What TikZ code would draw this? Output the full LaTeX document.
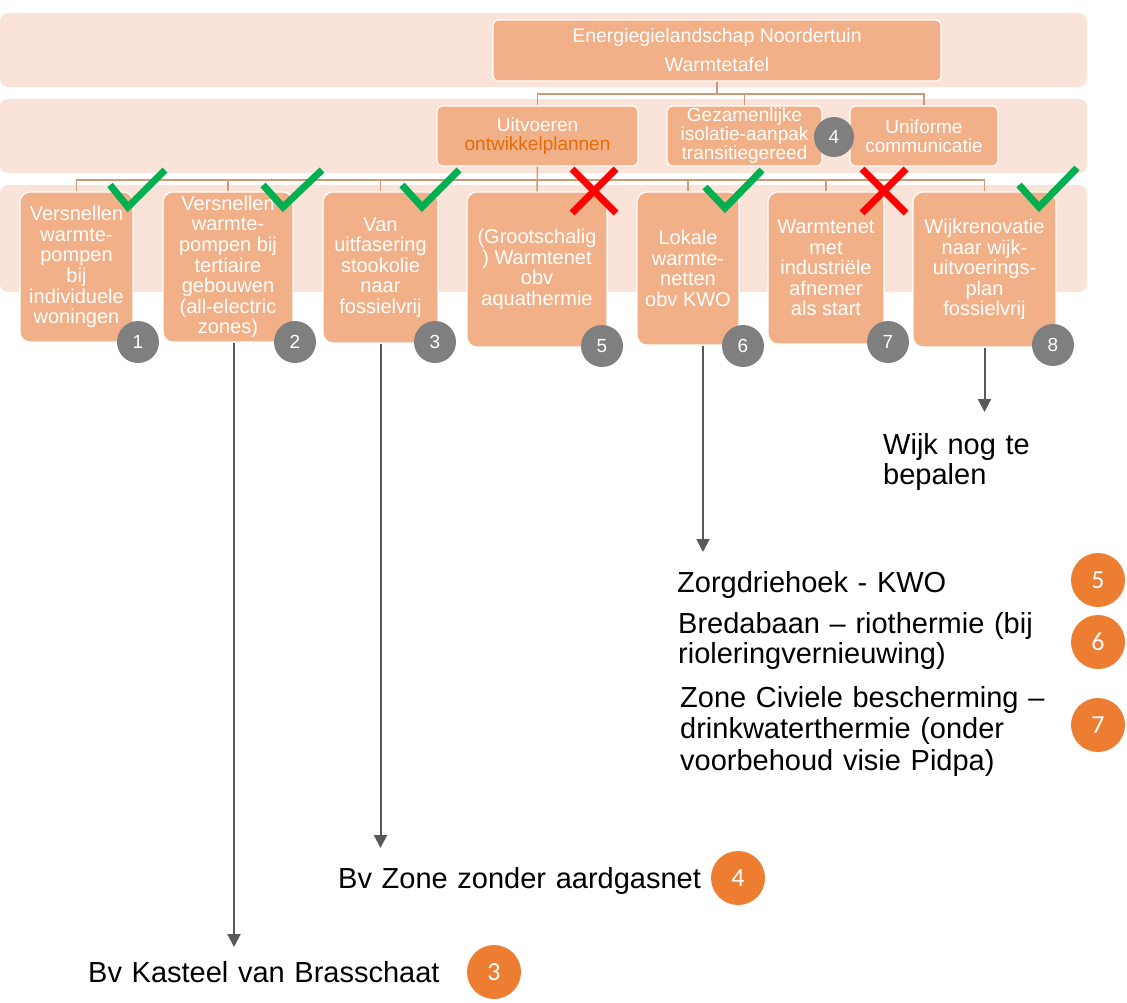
\documentclass[tikz,border=0pt]{standalone}
\usepackage{fontspec}
\setmainfont{Liberation Sans}
\newfontfamily\calfont{Carlito}
\usetikzlibrary{arrows.meta}
\definecolor{bandc}{HTML}{FAE3D8}
\definecolor{boxc}{HTML}{F1B088}
\definecolor{connc}{HTML}{CD9A78}
\definecolor{hlc}{HTML}{E46C0A}
\definecolor{greyc}{HTML}{7F7F7F}
\definecolor{orc}{HTML}{ED7D31}
\definecolor{arrc}{HTML}{595959}
\definecolor{tickc}{HTML}{00B050}
\definecolor{crossc}{HTML}{FF0000}
\begin{document}
\begin{tikzpicture}[x=1pt,y=-1pt,
  band/.style={fill=bandc,rounded corners=8pt},
  topbox/.style={fill=boxc,draw=white,line width=1.2pt,rounded corners=5pt,text=white,align=center,inner sep=0pt,font=\fontsize{19.5}{29}\selectfont},
  midbox/.style={fill=boxc,draw=white,line width=1.2pt,rounded corners=5pt,text=white,align=center,inner sep=0pt,font=\fontsize{19}{19}\selectfont},
  leafbox/.style={fill=boxc,draw=white,line width=1.2pt,rounded corners=10pt,text=white,align=center,inner sep=0pt,font=\fontsize{20}{20.6}\selectfont},
  conn/.style={draw=connc,line width=1.5pt},
  gnum/.style={circle,fill=greyc,minimum size=42pt,inner sep=0pt,text=white,font=\fontsize{19}{19}\selectfont},
  onum/.style={circle,fill=orc,minimum size=54pt,inner sep=0pt,text=white,font=\calfont\fontsize{26}{26}\selectfont},
  arr/.style={draw=arrc,line width=2pt,-{Triangle[width=13pt,length=13pt]}},
  lbl/.style={inner sep=0pt,align=left,text width=420pt,anchor=base west,font=\fontsize{29}{30.5}\selectfont},
  okmark/.style={draw=tickc,line width=7pt,miter limit=10},
  nomark/.style={draw=crossc,line width=7pt}]
\useasboundingbox (0,0) rectangle (1127,1002);
% bands
\fill[band] (0,13) rectangle (1087,87);
\fill[band] (0,99) rectangle (1087,173);
\fill[band] (0,185) rectangle (1087,292);
% top and level 2
\node[topbox,minimum width=448pt,minimum height=61pt] (T) at (717,50.5) {Energiegielandschap Noordertuin\\Warmtetafel};
\node[midbox,minimum width=201pt,minimum height=60pt] (U) at (537.5,136) {Uitvoeren\\\textcolor{hlc}{ontwikkelplannen}};
\node[midbox,minimum width=155pt,minimum height=60pt] (G) at (744.5,136) {Gezamenlijke\\isolatie-aanpak\\transitiegereed};
\node[midbox,minimum width=148pt,minimum height=60pt] (Un) at (924,136) {Uniforme\\communicatie};
\coordinate (hubA) at (717,94);
\coordinate (hubB) at (537,180);
% leaves
\node[leafbox,minimum width=113pt,minimum height=150pt] (B1) at (76.5,267) {Versnellen\\warmte-\\pompen\\bij\\individuele\\woningen};
\node[leafbox,minimum width=130pt,minimum height=150pt] (B2) at (228,267) {Versnellen\\warmte-\\pompen bij\\tertiaire\\gebouwen\\(all-electric\\zones)};
\node[leafbox,minimum width=115pt,minimum height=151pt] (B3) at (380.5,267.5) {Van\\uitfasering\\stookolie\\naar\\fossielvrij};
\node[leafbox,minimum width=140pt,minimum height=155pt] (B5) at (537,269.5) {(Grootschalig\\) Warmtenet\\obv\\aquathermie};
\node[leafbox,minimum width=102pt,minimum height=153pt] (B6) at (688,268.5) {Lokale\\warmte-\\netten\\obv KWO};
\node[leafbox,minimum width=116pt,minimum height=152pt] (B7) at (826,268) {Warmtenet\\met\\industriële\\afnemer\\als start};
\node[leafbox,minimum width=143pt,minimum height=155pt] (B8) at (984.5,269.5) {Wijkrenovatie\\naar wijk-\\uitvoerings-\\plan\\fossielvrij};
% connectors
\draw[conn] (T.south) -- (hubA);
\draw[conn] (U.north) -- (U.north |- hubA) -- (Un.north |- hubA) -- (Un.north);
\draw[conn] (G.north) -- (G.north |- hubA);
\draw[conn] (U.south) -- (B5.north);
\draw[conn] (B1.north) -- (B1.north |- hubB) -- (B8.north |- hubB) -- (B8.north);
\draw[conn] (B2.north) -- (B2.north |- hubB);
\draw[conn] (B3.north) -- (B3.north |- hubB);
\draw[conn] (B6.north) -- (B6.north |- hubB);
\draw[conn] (B7.north) -- (B7.north |- hubB);
% grey number circles
\node[gnum,minimum size=40pt] (g4) at (834,137) {4};
\node[gnum] (g1) at (138,342) {1};
\node[gnum] (g2) at (295,342) {2};
\node[gnum] (g3) at (435,342) {3};
\node[gnum] (g5) at (602,346) {5};
\node[gnum] (g6) at (743,346) {6};
\node[gnum] (g7) at (888,342) {7};
\node[gnum] (g8) at (1053,345) {8};
% ticks and crosses
\draw[okmark] (110,185) -- (128,207) -- (165,170);
\draw[okmark] (263,185) -- (283,207) -- (322,170);
\draw[okmark] (402,185) -- (422,207) -- (459,170);
\draw[okmark] (705,187) -- (725,208) -- (762,170);
\draw[okmark] (1019,185) -- (1039,207) -- (1077,168);
\draw[nomark] (572,169) -- (616,213) (616,169) -- (572,213);
\draw[nomark] (862,169) -- (906,213) (906,169) -- (862,213);
% arrows
\coordinate (t2) at (234,947);
\coordinate (t3) at (380.5,848);
\coordinate (t6) at (703,552);
\coordinate (t8) at (984.5,412);
\draw[arr] ([xshift=6pt]B2.south) -- (t2);
\draw[arr] (B3.south) -- (t3);
\draw[arr] ([xshift=15pt]B6.south) -- (t6);
\draw[arr] (B8.south) -- (t8);
% labels
\node[lbl] (w8) at (883,454) {Wijk nog te\\bepalen};
\node[lbl] (l5) at (677,592) {Zorgdriehoek - KWO};
\node[lbl] (l6) at (678,633) {Bredabaan – riothermie (bij\\rioleringvernieuwing)};
\node[lbl,font=\fontsize{29}{31.5}\selectfont] (l7) at (680,707) {Zone Civiele bescherming –\\drinkwaterthermie (onder\\voorbehoud visie Pidpa)};
\node[lbl] (l4) at (338,888) {Bv Zone zonder aardgasnet};
\node[lbl] (l3) at (88,982) {Bv Kasteel van Brasschaat};
\node[onum] (o5) at (1098,580) {5};
\node[onum] (o6) at (1098,642) {6};
\node[onum] (o7) at (1098,725) {7};
\node[onum] (o4) at (738,878) {4};
\node[onum] (o3) at (494,972) {3};
\end{tikzpicture}
\end{document}
